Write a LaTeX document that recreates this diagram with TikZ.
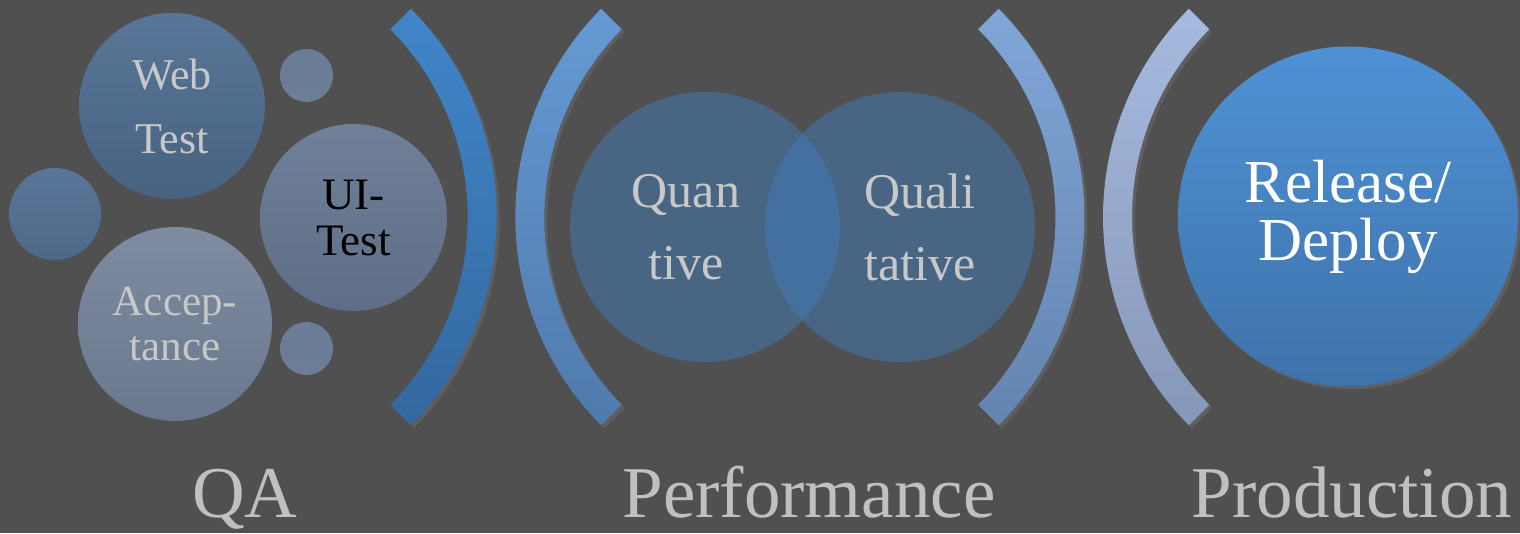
\documentclass[tikz,border=0pt]{standalone}
\usepackage{fontspec}
\setmainfont{Liberation Serif}
\usetikzlibrary{shadows}
\definecolor{bgGray}{RGB}{80,80,80}
\definecolor{lightTxt}{RGB}{200,200,200}
\definecolor{stageTxt}{RGB}{192,192,192}
\definecolor{webTop}{RGB}{88,118,152}
\definecolor{webBot}{RGB}{72,98,128}
\definecolor{leftTop}{RGB}{90,118,152}
\definecolor{leftBot}{RGB}{78,104,136}
\definecolor{uiTop}{RGB}{112,128,152}
\definecolor{uiBot}{RGB}{94,110,134}
\definecolor{accTop}{RGB}{126,139,160}
\definecolor{accBot}{RGB}{106,120,142}
\definecolor{dotTop}{RGB}{106,124,150}
\definecolor{dotBot}{RGB}{108,126,150}
\definecolor{vennBlue}{RGB}{63,126,193}
\definecolor{relTop}{RGB}{78,146,213}
\definecolor{relBot}{RGB}{62,114,170}
\definecolor{arcAt}{RGB}{64,134,201}
\definecolor{arcAb}{RGB}{52,104,160}
\definecolor{arcBt}{RGB}{100,154,212}
\definecolor{arcBb}{RGB}{80,122,172}
\definecolor{arcCt}{RGB}{128,166,216}
\definecolor{arcCb}{RGB}{100,132,176}
\definecolor{arcDt}{RGB}{166,186,224}
\definecolor{arcDb}{RGB}{134,152,184}

\begin{document}
\begin{tikzpicture} [x = 1pt, y = 1pt,
    bubble/.style = {circle, inner sep = 0pt, align = center},
    venn/.style = {circle, inner sep = 0pt, minimum size = 270pt,
      fill = vennBlue, fill opacity = 0.46},
    venntext/.style = {align = center, text = lightTxt, font = \fontsize{50}{72}\selectfont},
    stage/.style = {anchor = base, text = stageTxt, font = \fontsize{73}{80}\selectfont},
    softshadow/.style = {drop shadow = {opacity = 0.3, shadow xshift = 3pt, shadow yshift = -3pt}}]
\fill [bgGray] (0,0) rectangle (1520,533);
\useasboundingbox (0,0) rectangle (1520,533);

% QA bubbles
\node (web) [bubble, minimum size = 186pt, top color = webTop, bottom color = webBot,
  text = lightTxt, font = \fontsize{44}{64}\selectfont] at (172,427) {Web\\Test};
\node (dotA) [bubble, minimum size = 53pt, top color = dotTop, bottom color = dotBot] at (306.5,457.5) {};
\node (side) [bubble, minimum size = 92pt, top color = leftTop, bottom color = leftBot] at (55,319) {};
\node (ui) [bubble, minimum size = 187pt, top color = uiTop, bottom color = uiBot,
  text = black, font = \fontsize{45}{46}\selectfont] at (353.5,315.5) {UI-\\Test};
\node (accept) [bubble, minimum size = 194pt, top color = accTop, bottom color = accBot,
  text = lightTxt, font = \fontsize{43}{45}\selectfont] at (175,209) {Accep-\\tance};
\node (dotB) [bubble, minimum size = 53pt, top color = dotTop, bottom color = dotBot] at (306.5,184.5) {};

% brackets
\foreach \cx/\a/\ct/\cb in {201.2/0/arcAt/arcAb, 810.8/180/arcBt/arcBb,
    789/0/arcCt/arcCb, 1398.5/180/arcDt/arcDb}
  \shade [top color = \ct, bottom color = \cb, softshadow]
    ([shift = {(\cx,316)}] \a-44.8:295.5) arc [start angle = \a-44.8, end angle = \a+44.8, radius = 295.5]
    -- ([shift = {(\cx,316)}] \a+44.8:266.5) arc [start angle = \a+44.8, end angle = \a-44.8, radius = 266.5]
    -- cycle;

% performance
\node (quan) [venn] at (705,306) {};
\node (quali) [venn] at (900,306) {};
\node (quanTxt) [venntext] at ([xshift = -19pt] quan.center) {Quan\\tive};
\node (qualiTxt) [venntext] at ([xshift = 20pt] quali.center) {Quali\\tative};

% production
\node (release) [bubble, minimum size = 340pt, top color = relTop, bottom color = relBot,
  text = white, font = \fontsize{61}{58}\selectfont, softshadow] at (1348,316.5) {Release/\\Deploy};

\node (qa) [stage] at (245,16) {QA};
\node (perf) [stage] at (809,16) {Performance};
\node (prod) [stage] at (1352,16) {Production};
\end{tikzpicture}
\end{document}
